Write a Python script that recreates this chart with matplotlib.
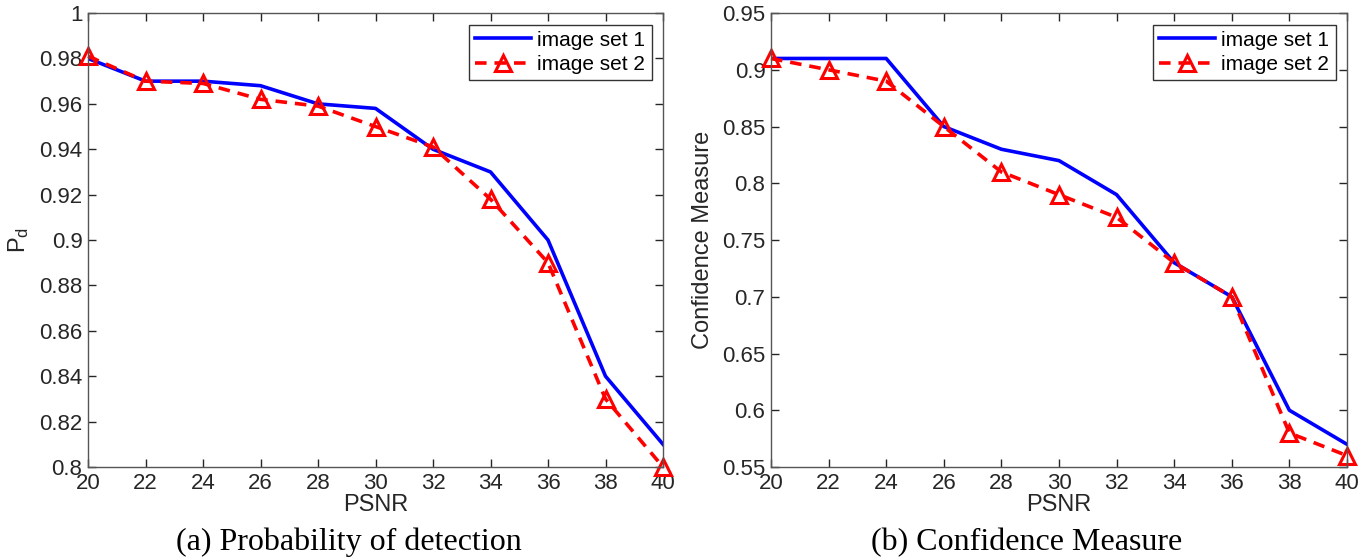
import matplotlib
matplotlib.use("Agg")
import matplotlib.pyplot as plt
import numpy as np

psnr = [20, 22, 24, 26, 28, 30, 32, 34, 36, 38, 40]

# (a) probability of detection
pd_set1 = [0.980, 0.970, 0.970, 0.968, 0.960, 0.958, 0.940, 0.930, 0.900, 0.840, 0.810]
pd_set2 = [0.981, 0.970, 0.969, 0.962, 0.959, 0.950, 0.941, 0.918, 0.890, 0.830, 0.800]

# (b) confidence measure
cm_set1 = [0.910, 0.910, 0.910, 0.850, 0.830, 0.820, 0.790, 0.730, 0.700, 0.600, 0.570]
cm_set2 = [0.910, 0.900, 0.890, 0.850, 0.810, 0.790, 0.770, 0.730, 0.700, 0.580, 0.560]

plt.rcParams['font.family'] = ['Liberation Sans Narrow', 'Liberation Sans', 'DejaVu Sans']
TICK_COLOR = '#262626'

fig = plt.figure(figsize=(13.69, 5.59), dpi=100)
ax_a = fig.add_axes([0.0643, 0.1646, 0.42, 0.812])
ax_b = fig.add_axes([0.5632, 0.1646, 0.4207, 0.812])


def draw_panel(ax, y1, y2, ylim, yticks, ylabel):
    ax.plot(psnr, y1, color='#0000ff', lw=2.6, label='image set 1')
    ax.plot(psnr, y2, color='#ff0000', lw=2.6, ls=(0, (3.2, 2.2)), marker='^',
            ms=11, mfc='none', mec='#ff0000', mew=2.2, label='image set 2', clip_on=False)
    ax.set_xlim(20, 40)
    ax.set_ylim(*ylim)
    ax.set_xticks(psnr)
    ax.set_yticks(yticks)
    ax.set_yticklabels(['%g' % t for t in yticks])
    ax.tick_params(direction='in', top=True, right=True, length=6, width=1,
                   labelsize=16, colors=TICK_COLOR, pad=4)
    for s in ax.spines.values():
        s.set_color('#555555')
        s.set_linewidth(1)
    ax.set_xlabel('PSNR', fontsize=17, color=TICK_COLOR, labelpad=0)
    ax.set_ylabel(ylabel, fontsize=17, color=TICK_COLOR, labelpad=6)
    leg = ax.legend(loc='upper right', fontsize=15, frameon=True, fancybox=False,
                    borderaxespad=0.55, handlelength=2.7, handletextpad=0.3,
                    borderpad=0.3, labelspacing=0.25)
    leg.get_frame().set_edgecolor('#333333')
    leg.get_frame().set_linewidth(1)
    leg.get_frame().set_alpha(1)


draw_panel(ax_a, pd_set1, pd_set2, (0.8, 1.0), np.round(np.arange(0.80, 1.001, 0.02), 2),
           r'$\mathregular{P_d}$')
draw_panel(ax_b, cm_set1, cm_set2, (0.55, 0.95), np.round(np.arange(0.55, 0.951, 0.05), 2),
           'Confidence Measure')

fig.text(0.255, 0.03, '(a) Probability of detection', ha='center', va='center',
         fontsize=23, family=['Liberation Serif', 'DejaVu Serif'])
fig.text(0.75, 0.03, '(b) Confidence Measure', ha='center', va='center',
         fontsize=23, family=['Liberation Serif', 'DejaVu Serif'])

fig.savefig('out.png', dpi=100)
